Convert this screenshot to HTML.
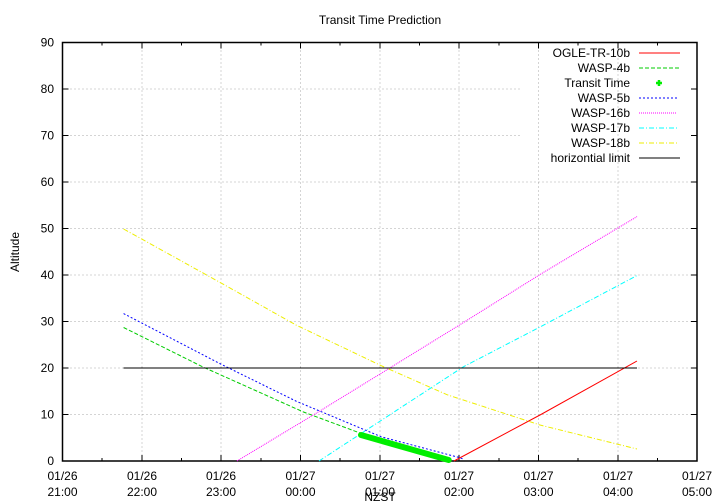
<!DOCTYPE html>
<html><head><meta charset="utf-8"><style>
html,body{margin:0;padding:0;background:#fff}
svg{display:block}
text{font-family:"Liberation Sans",sans-serif;font-size:12px;fill:#000}
</style></head><body>
<svg width="720" height="504" viewBox="0 0 720 504">
<text x="380" y="24" text-anchor="middle">Transit Time Prediction</text>
<g stroke="#aaa" stroke-width="1" stroke-dasharray="1,3">
<line x1="142" y1="42.5" x2="142" y2="461"/><line x1="221" y1="42.5" x2="221" y2="461"/>
<line x1="300.5" y1="42.5" x2="300.5" y2="461"/><line x1="380" y1="42.5" x2="380" y2="461"/>
<line x1="459" y1="42.5" x2="459" y2="461"/><line x1="538.5" y1="42.5" x2="538.5" y2="461"/>
<line x1="618" y1="42.5" x2="618" y2="461"/>
<line x1="62.5" y1="414.5" x2="697" y2="414.5"/><line x1="62.5" y1="368" x2="697" y2="368"/>
<line x1="62.5" y1="321.5" x2="697" y2="321.5"/><line x1="62.5" y1="275" x2="697" y2="275"/>
<line x1="62.5" y1="228.5" x2="697" y2="228.5"/><line x1="62.5" y1="182" x2="697" y2="182"/>
<line x1="62.5" y1="135.5" x2="520" y2="135.5"/><line x1="62.5" y1="89" x2="520" y2="89"/>
</g>
<g stroke="#000" stroke-width="1">
<rect x="62.5" y="42.5" width="634.5" height="418.5" fill="none" stroke-width="1.5"/>
<path d="M142 461v-6M221 461v-6M300.5 461v-6M380 461v-6M459 461v-6M538.5 461v-6M618 461v-6M142 42.5v6M221 42.5v6M300.5 42.5v6M380 42.5v6M459 42.5v6M538.5 42.5v6M618 42.5v6
M102 461v-3M181.5 461v-3M261 461v-3M340 461v-3M419.5 461v-3M499 461v-3M578 461v-3M657.5 461v-3M102 42.5v3M181.5 42.5v3M261 42.5v3M340 42.5v3M419.5 42.5v3M499 42.5v3M578 42.5v3M657.5 42.5v3
M62.5 414.5h6M62.5 368h6M62.5 321.5h6M62.5 275h6M62.5 228.5h6M62.5 182h6M62.5 135.5h6M62.5 89h6
M697 414.5h-6M697 368h-6M697 321.5h-6M697 275h-6M697 228.5h-6M697 182h-6M697 135.5h-6M697 89h-6"/>
</g>
<g text-anchor="end">
<text x="54" y="465">0</text><text x="54" y="418.5">10</text><text x="54" y="372">20</text>
<text x="54" y="325.5">30</text><text x="54" y="279">40</text><text x="54" y="232.5">50</text>
<text x="54" y="186">60</text><text x="54" y="139.5">70</text><text x="54" y="93">80</text><text x="54" y="46.5">90</text>
</g>
<g text-anchor="middle">
<text x="62.5" y="480">01/26</text><text x="62.5" y="496">21:00</text>
<text x="142" y="480">01/26</text><text x="142" y="496">22:00</text>
<text x="221" y="480">01/26</text><text x="221" y="496">23:00</text>
<text x="300.5" y="480">01/27</text><text x="300.5" y="496">00:00</text>
<text x="380" y="480">01/27</text><text x="380" y="496">01:00</text>
<text x="459" y="480">01/27</text><text x="459" y="496">02:00</text>
<text x="538.5" y="480">01/27</text><text x="538.5" y="496">03:00</text>
<text x="618" y="480">01/27</text><text x="618" y="496">04:00</text>
<text x="697" y="480">01/27</text><text x="697" y="496">05:00</text>
<text x="380" y="501">NZST</text>
</g>
<text transform="translate(19,252) rotate(-90)" text-anchor="middle">Altitude</text>
<g fill="none" stroke-width="1">
<polyline points="454,461 540,415 637,361" stroke="#f00"/>
<polyline points="123.6,327.5 203,367 303.5,412 361,433.4 449,461" stroke="#0c0" stroke-dasharray="4,2"/>
<polyline points="123.6,313.6 221.8,364.6 296.4,401.3 381.3,436.8 459.5,457.6 463,459" stroke="#00f" stroke-dasharray="2,2"/>
<polyline points="237,461 321.5,410 391.4,367 459.5,325 540,274.5 637,216.6" stroke="#f0f" stroke-dasharray="1,1"/>
<polyline points="319,461 463,367 540,327 637,275.5" stroke="#0ff" stroke-dasharray="5,2,1,2"/>
<polyline points="123.6,229 221.8,283.4 296,325 381,365.6 447,394.7 540,425 637,449" stroke="#ee0" stroke-dasharray="5,2,1,2"/>
<line x1="123.6" y1="368" x2="637" y2="368" stroke="#000"/>
<path d="M361 435 L448.7 460" stroke="#0e0" stroke-width="6" stroke-linecap="round"/>
</g>
<g text-anchor="end">
<text x="630" y="57">OGLE-TR-10b</text><text x="630" y="72">WASP-4b</text>
<text x="630" y="87">Transit Time</text><text x="630" y="102">WASP-5b</text>
<text x="630" y="117">WASP-16b</text><text x="630" y="132">WASP-17b</text>
<text x="630" y="147">WASP-18b</text><text x="630" y="162">horizontial limit</text>
</g>
<g fill="none">
<line x1="639" y1="53" x2="680" y2="53" stroke="#f00"/>
<line x1="639" y1="68" x2="680" y2="68" stroke="#0c0" stroke-dasharray="4,2"/>
<path d="M659 80v6M656 83h6" stroke="#0e0" stroke-width="2.5"/>
<line x1="639" y1="98" x2="677" y2="98" stroke="#00f" stroke-dasharray="2,2"/>
<line x1="639" y1="113" x2="677" y2="113" stroke="#f0f" stroke-dasharray="1,1"/>
<line x1="639" y1="128" x2="677" y2="128" stroke="#0ff" stroke-dasharray="5,2,1,2"/>
<line x1="639" y1="143" x2="677" y2="143" stroke="#ee0" stroke-dasharray="5,2,1,2"/>
<line x1="639" y1="158" x2="680" y2="158" stroke="#000"/>
</g>
</svg>
</body></html>
